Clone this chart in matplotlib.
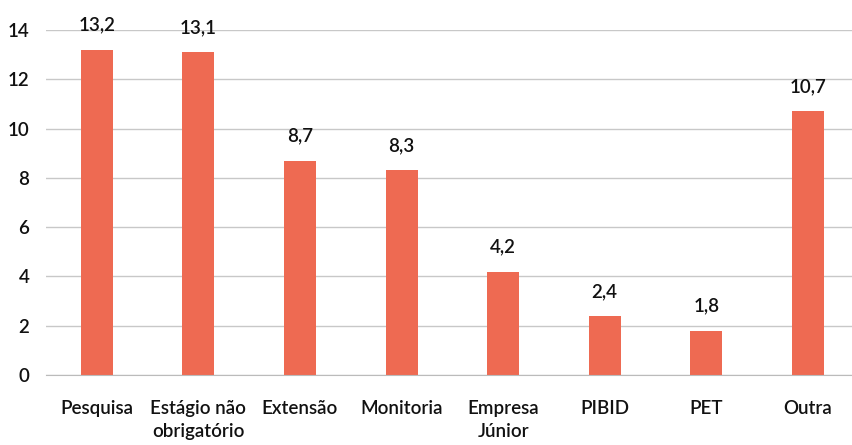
import matplotlib
matplotlib.use("Agg")
import matplotlib.pyplot as plt

categories = ["Pesquisa", "Estágio não\nobrigatório", "Extensão", "Monitoria",
              "Empresa\nJúnior", "PIBID", "PET", "Outra"]
values = [13.2, 13.1, 8.7, 8.3, 4.2, 2.4, 1.8, 10.7]
labels = ["13,2", "13,1", "8,7", "8,3", "4,2", "2,4", "1,8", "10,7"]
yticks = [0, 2, 4, 6, 8, 10, 12, 14]

plt.rcParams['font.family'] = ['Lato', 'DejaVu Sans']

fig = plt.figure(figsize=(8.52, 4.45), dpi=100)
ax = fig.add_axes([46/852, 70/445, 806/852, 345/445])
x = list(range(len(categories)))
bars = ax.bar(x, values, width=0.315, color="#EE6A52", zorder=3)
for xi, v, lab in zip(x, values, labels):
    ax.text(xi, v + 0.65, lab, ha="center", va="bottom", fontsize=13.5,
            fontweight="semibold", color="#111111")

ax.set_xlim(-0.5, 7.435)
ax.set_ylim(0, 14)
ax.set_yticks(yticks)
ax.set_yticklabels([str(t) for t in yticks], fontsize=13.5, fontweight="semibold")
ax.set_xticks(x)
ax.set_xticklabels(categories, fontsize=13.5, fontweight="semibold", linespacing=1.45)
ax.tick_params(axis="both", length=0, colors="#111111")
ax.tick_params(axis="y", pad=12)
ax.tick_params(axis="x", pad=18)
ax.yaxis.grid(True, color="#C8C8C8", linewidth=1, zorder=0)
for s in ["top", "right", "left"]:
    ax.spines[s].set_visible(False)
ax.spines["bottom"].set_color("#BBBBBB")
ax.spines["bottom"].set_zorder(4)

fig.savefig("out.png", dpi=100)
